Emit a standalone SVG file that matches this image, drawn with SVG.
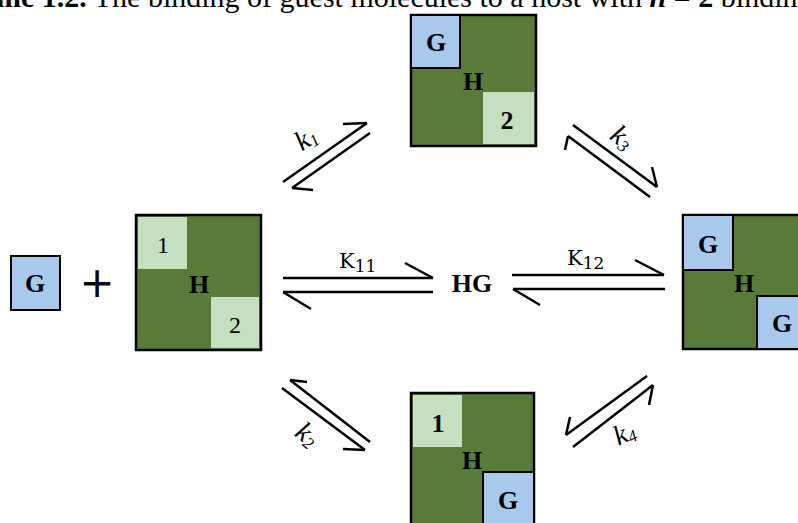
<svg xmlns="http://www.w3.org/2000/svg" width="798" height="523" viewBox="0 0 798 523">
<style>
.host{fill:#587b3a;stroke:#000;stroke-width:2.5}
.guest{fill:#a9c9ec;stroke:#000;stroke-width:2}
.site{fill:#c6dfc0;stroke:none}
.lb{font-family:"Liberation Serif","Times New Roman",serif;font-weight:bold;font-size:26px;text-anchor:middle;fill:#000}
.ln{font-family:"Liberation Serif","Times New Roman",serif;font-size:24px;text-anchor:middle;fill:#000}
.arr line{stroke:#000;stroke-width:2.5;stroke-linecap:butt}
.K{font-family:"DejaVu Serif","Liberation Serif",serif;font-size:21px;fill:#000}
.k{font-family:"Liberation Serif","Times New Roman",serif;font-style:italic;font-size:28px;fill:#000}
.sub{font-size:17px}
</style>
<rect width="798" height="523" fill="#fff"/>
<text x="-4" y="7" font-family="Liberation Serif, Times New Roman, serif" font-size="30" fill="#000"><tspan font-weight="bold">me 1.2.</tspan> The binding of guest molecules to a host with <tspan font-weight="bold" font-style="italic">n</tspan><tspan font-weight="bold"> = 2</tspan> binding</text>

<g id="guest">
<rect class="guest" x="11" y="256" width="49" height="54"/>
<text class="lb" x="35" y="292">G</text>
</g>
<g id="plus"><text x="97" y="297" font-family="DejaVu Sans, sans-serif" font-size="42" text-anchor="middle">+</text></g>

<g id="host">
<rect class="host" x="136" y="215" width="125" height="135"/>
<rect class="site" x="138" y="217" width="49" height="52"/>
<rect class="site" x="211" y="297" width="48" height="51"/>
<text class="ln" x="163" y="253">1</text>
<text class="ln" x="235" y="333">2</text>
<text class="lb" x="199" y="293">H</text>
</g>

<g id="hg-top">
<rect class="host" x="411" y="15" width="125" height="131"/>
<rect class="site" x="483" y="92" width="51" height="52"/>
<rect class="guest" x="411" y="15" width="49" height="53"/>
<text class="lb" x="436" y="51">G</text>
<text class="lb" x="473" y="90">H</text>
<text class="lb" x="507" y="129">2</text>
</g>

<g id="hg-bottom">
<rect class="host" x="411" y="393" width="123" height="135"/>
<rect class="site" x="413" y="395" width="49" height="52"/>
<rect class="guest" x="483" y="472" width="51" height="56"/>
<text class="lb" x="438" y="432">1</text>
<text class="lb" x="472" y="469">H</text>
<text class="lb" x="508" y="509">G</text>
</g>

<g id="hg-center">
<text class="lb" x="472" y="292" font-size="23">HG</text>
</g>

<g id="hg2">
<rect class="host" x="683" y="215" width="126" height="134"/>
<rect class="guest" x="683" y="215" width="50" height="55"/>
<rect class="guest" x="757" y="296" width="52" height="53"/>
<text class="lb" x="708" y="253">G</text>
<text class="lb" x="744" y="292">H</text>
<text class="lb" x="782" y="332">G</text>
</g>

<g id="connectors" class="arr">
<!-- K11 -->
<line x1="283" y1="278" x2="433" y2="278"/><line x1="433" y1="278" x2="405" y2="263"/>
<line x1="283" y1="292" x2="433" y2="292"/><line x1="283" y1="292" x2="311" y2="309"/>
<!-- K12 -->
<line x1="512" y1="275" x2="664" y2="275"/><line x1="664" y1="275" x2="635" y2="260"/>
<line x1="513" y1="289" x2="665" y2="289"/><line x1="513" y1="289" x2="540" y2="305"/>
<!-- k1 -->
<line x1="283" y1="182" x2="367" y2="123"/><line x1="367" y1="123" x2="343" y2="124"/>
<line x1="370" y1="133" x2="292" y2="188"/><line x1="292" y1="188" x2="313" y2="190"/>
<!-- k3 -->
<line x1="573" y1="125" x2="657" y2="187"/><line x1="657" y1="187" x2="652" y2="167"/>
<line x1="650" y1="197" x2="568" y2="136"/><line x1="568" y1="136" x2="565" y2="150"/>
<!-- k2 -->
<line x1="290" y1="380" x2="370" y2="442"/><line x1="290" y1="380" x2="307" y2="382"/>
<line x1="282" y1="388" x2="365" y2="450"/><line x1="365" y1="450" x2="343" y2="449"/>
<!-- k4 -->
<line x1="647" y1="376" x2="566" y2="435"/><line x1="566" y1="435" x2="570" y2="417"/>
<line x1="573" y1="447" x2="653" y2="385"/><line x1="653" y1="385" x2="649" y2="405"/>
</g>

<g id="labels">
<text class="K" x="339" y="268">K<tspan class="sub" dy="4">11</tspan></text>
<text class="K" x="567" y="265">K<tspan class="sub" dy="4">12</tspan></text>
<text class="k" transform="translate(307,140) rotate(-33)" text-anchor="middle" y="7">k<tspan class="sub" dy="3">1</tspan></text>
<text class="k" transform="translate(621,139) rotate(38)" text-anchor="middle" y="7">k<tspan class="sub" dy="3">3</tspan></text>
<text class="k" transform="translate(306,436) rotate(38)" text-anchor="middle" y="7">k<tspan class="sub" dy="3">2</tspan></text>
<text class="k" transform="translate(625,435) rotate(-25)" text-anchor="middle" y="7">k<tspan class="sub" dy="3">4</tspan></text>
</g>
</svg>
